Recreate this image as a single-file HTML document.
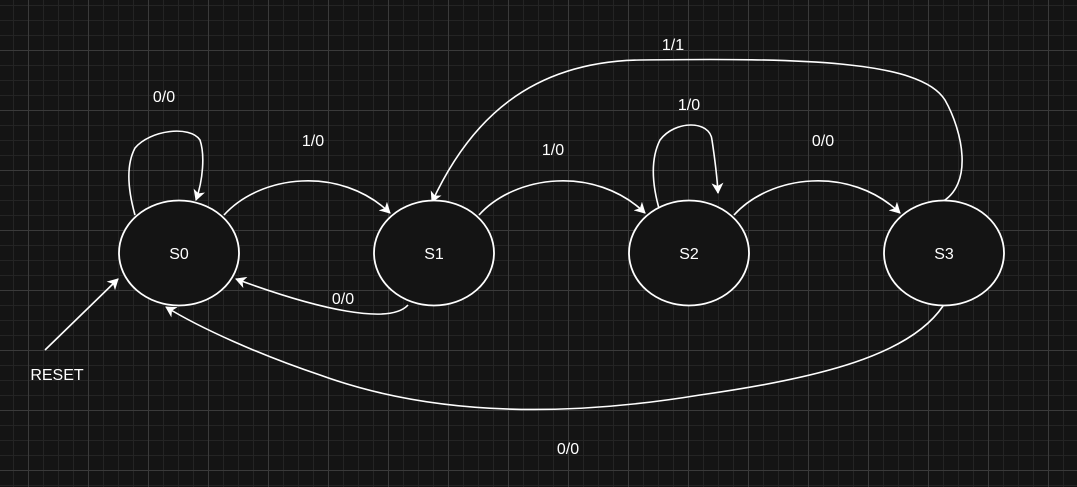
<!DOCTYPE html>
<html><head><meta charset="utf-8"><style>
html,body{margin:0;padding:0;background:#141414;}
svg{display:block;}
text{font-family:"Liberation Sans",sans-serif;font-size:16px;fill:#fff;}
</style></head><body>
<svg width="1077" height="487" viewBox="0 0 1077 487">
<defs>
<pattern id="minor" x="-2" y="5" width="15" height="15" patternUnits="userSpaceOnUse"><path d="M0.5 0V15M0 0.5H15" stroke="#242424" stroke-width="1" fill="none"/></pattern>
<pattern id="major" x="28" y="50" width="60" height="60" patternUnits="userSpaceOnUse"><path d="M0.5 0V60M0 0.5H60" stroke="#3a3a3a" stroke-width="1" fill="none"/></pattern>
<marker id="ah" markerWidth="12" markerHeight="12" refX="10" refY="6" orient="auto" markerUnits="userSpaceOnUse"><path d="M0 0L11 6L0 12L3 6Z" fill="#fff"/></marker>
</defs>
<rect width="1077" height="487" fill="#141414"/>
<rect width="1077" height="487" fill="url(#minor)"/>
<rect width="1077" height="487" fill="url(#major)"/>
<g fill="none" stroke="#fff" stroke-width="1.6">
<path d="M135 215C128 190 126 165 135 148C150 130 190 125 200 140C205 155 203 180 196 200" marker-end="url(#ah)"/>
<path d="M224 215C260 175 340 165 390 213" marker-end="url(#ah)"/>
<path d="M408 305C390 325 320 310 236 279" marker-end="url(#ah)"/>
<path d="M479 215C515 175 595 165 645 213" marker-end="url(#ah)"/>
<path d="M660 212C652 185 650 160 660 140C675 120 710 120 712 140C715 160 717 175 718 193" marker-end="url(#ah)"/>
<path d="M734 215C770 175 850 165 900 213" marker-end="url(#ah)"/>
<path d="M940 203C975 185 962 130 945 100C920 60 800 58 640 60C530 62 470 120 432 202" marker-end="url(#ah)"/>
<path d="M943 306C910 355 820 378 700 395C560 418 430 415 320 375C260 355 200 328 166 307" marker-end="url(#ah)"/>
<path d="M45 350L118 279" marker-end="url(#ah)"/>
</g>
<g fill="#141414" stroke="#fff" stroke-width="1.8">
<ellipse cx="179" cy="253" rx="60" ry="52.5"/>
<ellipse cx="434" cy="253" rx="60" ry="52.5"/>
<ellipse cx="689" cy="253" rx="60" ry="52.5"/>
<ellipse cx="944" cy="253" rx="60" ry="52.5"/>
</g>
<g text-anchor="middle">
<text x="179" y="259">S0</text>
<text x="434" y="259">S1</text>
<text x="689" y="259">S2</text>
<text x="944" y="259">S3</text>
<text x="164" y="102">0/0</text>
<text x="313" y="146">1/0</text>
<text x="343" y="304">0/0</text>
<text x="553" y="155">1/0</text>
<text x="689" y="110">1/0</text>
<text x="823" y="146">0/0</text>
<text x="673" y="50">1/1</text>
<text x="568" y="454">0/0</text>
<text x="57" y="380">RESET</text>
</g>
</svg>
</body></html>
